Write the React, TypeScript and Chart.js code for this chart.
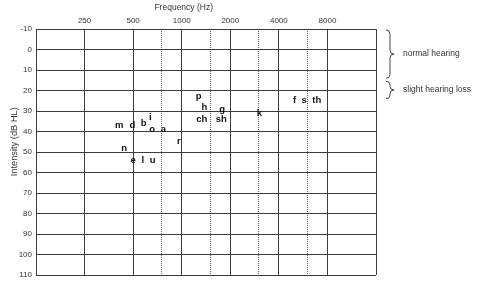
import React, { useEffect, useRef } from 'react';
import { Chart, registerables } from 'chart.js';

Chart.register(...registerables);

// Audiogram grid: octave lines (solid) and half-octave lines (dotted)
const octaveHz = [125, 250, 500, 1000, 2000, 4000, 8000, 16000];
const labelledHz = [250, 500, 1000, 2000, 4000, 8000];
const halfOctaveHz = [750, 1500, 3000, 6000];

// Speech sounds placed by typical frequency and loudness
const phonemes = ['p', 'h', 'g', 'ch', 'sh', 'k', 'f', 's', 'th', 'm', 'd', 'b', 'i', 'o', 'a', 'r', 'n', 'e', 'l', 'u'];
const phonemeHz = [1275, 1380, 1780, 1330, 1760, 3030, 5000, 5730, 6870, 410, 495, 580, 640, 655, 770, 960, 440, 500, 575, 660];
const phonemeDb = [23, 28, 29, 34, 34, 31, 25, 25, 25, 37, 37, 36, 33, 39, 39, 45, 48, 54, 54, 54];

// Hearing ranges marked by braces on the right
const rangeNames = ['normal hearing', 'slight hearing loss'];
const rangeFromDb = [-10, 15];
const rangeToDb = [15, 25];

const FONT = 'Liberation Sans, Arial, sans-serif';
const TEXT = '#333';
const GRID = '#3c3c3c';

const phonemeLabels = {
  id: 'phonemeLabels',
  afterDatasetsDraw(chart: any) {
    const ctx = chart.ctx;
    const meta = chart.getDatasetMeta(0);
    ctx.save();
    ctx.fillStyle = '#111';
    ctx.font = `bold 9.5px ${FONT}`;
    ctx.textAlign = 'center';
    ctx.textBaseline = 'middle';
    meta.data.forEach((pt: any, i: number) => {
      ctx.fillText(phonemes[i], pt.x, pt.y);
    });
    ctx.restore();
  },
};

// Axis titles: frequency over the 1 kHz column, intensity beside the upper half
const axisTitles = {
  id: 'axisTitles',
  afterDraw(chart: any) {
    const ctx = chart.ctx;
    const x = chart.scales.x.getPixelForValue(1000) + 2;
    const yMid = chart.scales.y.getPixelForValue(45);
    ctx.save();
    ctx.fillStyle = TEXT;
    ctx.font = `8.5px ${FONT}`;
    ctx.textAlign = 'center';
    ctx.textBaseline = 'middle';
    ctx.fillText('Frequency (Hz)', x, 8);
    ctx.translate(14, yMid);
    ctx.rotate(-Math.PI / 2);
    ctx.font = `9.3px ${FONT}`;
    ctx.fillText('Intensity (dB HL)', 0, 0);
    ctx.restore();
  },
};

const rangeBraces = {
  id: 'rangeBraces',
  afterDraw(chart: any) {
    const ctx = chart.ctx;
    const y = chart.scales.y;
    const xs = chart.chartArea.right + 14;
    const c = 4;
    ctx.save();
    ctx.strokeStyle = '#444';
    ctx.lineWidth = 1;
    ctx.fillStyle = TEXT;
    ctx.font = `8.5px ${FONT}`;
    ctx.textAlign = 'left';
    ctx.textBaseline = 'middle';
    rangeNames.forEach((name, i) => {
      const top = y.getPixelForValue(rangeFromDb[i]) + 1;
      const bot = y.getPixelForValue(rangeToDb[i]) - 2;
      const mid = (top + bot) / 2;
      ctx.beginPath();
      ctx.moveTo(xs - c, top);
      ctx.quadraticCurveTo(xs, top, xs, top + c);
      ctx.lineTo(xs, mid - c);
      ctx.quadraticCurveTo(xs, mid, xs + c, mid);
      ctx.quadraticCurveTo(xs, mid, xs, mid + c);
      ctx.lineTo(xs, bot - c);
      ctx.quadraticCurveTo(xs, bot, xs - c, bot);
      ctx.stroke();
      ctx.fillText(name, xs + 13, mid);
    });
    ctx.restore();
  },
};

export default function App() {
  const canvasRef = useRef<HTMLCanvasElement | null>(null);

  useEffect(() => {
    const canvas = canvasRef.current;
    if (!canvas) return;
    const chart = new Chart(canvas, {
      type: 'scatter',
      data: {
        datasets: [
          {
            data: phonemes.map((_, i) => ({ x: phonemeHz[i], y: phonemeDb[i] })),
            pointRadius: 0,
            pointHoverRadius: 0,
            xAxisID: 'x',
            yAxisID: 'y',
          },
        ],
      },
      options: {
        responsive: false,
        animation: false,
        events: [],
        layout: { padding: { top: 0, left: 0, right: 104, bottom: 16 } },
        plugins: { legend: { display: false }, tooltip: { enabled: false } },
        scales: {
          x: {
            type: 'logarithmic',
            position: 'top',
            min: 125,
            max: 16000,
            afterBuildTicks: (s: any) => {
              s.ticks = octaveHz.map((v) => ({ value: v }));
            },
            afterFit: (s: any) => {
              s.height = 29;
            },
            ticks: {
              autoSkip: false,
              maxRotation: 0,
              padding: 3,
              color: TEXT,
              font: { size: 8, family: FONT },
              callback: (v: any) => (labelledHz.includes(Number(v)) ? String(v) : ''),
            },
            grid: { color: GRID, lineWidth: 1, drawTicks: false },
            border: { display: true, color: GRID },
          },
          x2: {
            type: 'logarithmic',
            position: 'bottom',
            min: 125,
            max: 16000,
            afterBuildTicks: (s: any) => {
              s.ticks = halfOctaveHz.map((v) => ({ value: v }));
            },
            afterFit: (s: any) => {
              s.height = 0;
            },
            ticks: { display: false },
            grid: { color: '#666', lineWidth: 1, drawTicks: false },
            border: { display: false, dash: [1, 1] },
          },
          y: {
            type: 'linear',
            reverse: true,
            min: -10,
            max: 110,
            afterFit: (s: any) => {
              s.width = 36;
            },
            ticks: {
              stepSize: 10,
              padding: 4,
              color: TEXT,
              font: { size: 8, family: FONT },
            },
            grid: { color: GRID, lineWidth: 1, drawTicks: false },
            border: { display: true, color: GRID },
          },
        },
      },
      plugins: [phonemeLabels, axisTitles, rangeBraces],
    } as any);
    return () => chart.destroy();
  }, []);

  return (
    <div style={{ position: 'fixed', left: 0, top: 0, width: 480, height: 291, background: '#fff' }}>
      <canvas ref={canvasRef} width={480} height={291} />
    </div>
  );
}
